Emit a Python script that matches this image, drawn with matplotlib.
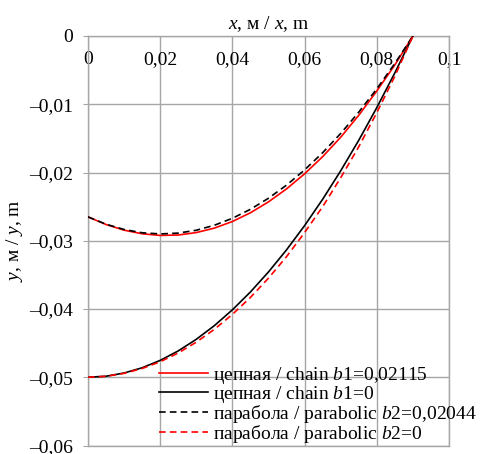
import matplotlib
matplotlib.use("Agg")
import matplotlib.pyplot as plt

plt.rcParams['font.family'] = ['Liberation Serif', 'DejaVu Serif']
plt.rcParams['mathtext.fontset'] = 'custom'
plt.rcParams['mathtext.rm'] = 'Liberation Serif'
plt.rcParams['mathtext.it'] = 'Liberation Serif:italic'

x = [0.0, 0.005, 0.01, 0.015, 0.02, 0.025, 0.03, 0.035, 0.04, 0.045,
     0.05, 0.055, 0.06, 0.065, 0.07, 0.075, 0.08, 0.085, 0.09]

chain_b1 = [-0.02650, -0.02762, -0.02845, -0.02898, -0.02922, -0.02916, -0.02880, -0.02815,
            -0.02718, -0.02590, -0.02430, -0.02240, -0.02019, -0.01768, -0.01483, -0.01162,
            -0.00806, -0.00424, 0.0]
chain_0 = [-0.05000, -0.04985, -0.04938, -0.04861, -0.04753, -0.04614, -0.04444, -0.04244,
           -0.04012, -0.03750, -0.03457, -0.03133, -0.02778, -0.02392, -0.01975, -0.01528,
           -0.01049, -0.00540, 0.0]
parab_b2 = [-0.02650, -0.02758, -0.02835, -0.02883, -0.02900, -0.02888, -0.02846, -0.02773,
            -0.02671, -0.02539, -0.02377, -0.02185, -0.01962, -0.01710, -0.01428, -0.01116,
            -0.00774, -0.00402, 0.0]
parab_0 = [-0.05000, -0.04986, -0.04943, -0.04872, -0.04773, -0.04644, -0.04486, -0.04298,
           -0.04079, -0.03830, -0.03548, -0.03233, -0.02880, -0.02501, -0.02077, -0.01623,
           -0.01123, -0.00589, 0.0]

labels = ["цепная / chain $b$1=0,02115",
          "цепная / chain $b$1=0",
          "парабола / parabolic $b$2=0,02044",
          "парабола / parabolic $b$2=0"]

xticks = [0, 0.02, 0.04, 0.06, 0.08, 0.1]
xticklabels = ["0", "0,02", "0,04", "0,06", "0,08", "0,1"]
yticks = [0, -0.01, -0.02, -0.03, -0.04, -0.05, -0.06]
yticklabels = ["0", "\u20130,01", "\u20130,02", "\u20130,03", "\u20130,04", "\u20130,05", "\u20130,06"]

W, H = 481, 454
fig = plt.figure(figsize=(W / 100, H / 100), dpi=100)
ax = fig.add_axes([88 / W, 1 - 445.5 / H, (449 - 88) / W, (445.5 - 36) / H])

grid_c = '#a6a6a6'
lw = 1.2
dash = (0, (4, 2.5))
ax.plot(x, chain_b1, color='#ff0000', lw=lw, label=labels[0], zorder=3)
ax.plot(x, chain_0, color='black', lw=lw, label=labels[1], zorder=3)
ax.plot(x, parab_b2, color='black', lw=lw, ls=dash, label=labels[2], zorder=4)
ax.plot(x, parab_0, color='#ff0000', lw=lw, ls=dash, label=labels[3], zorder=4)

ax.set_xlim(0, 0.1)
ax.set_ylim(-0.06, 0)
ax.set_xticks(xticks)
ax.set_xticklabels(xticklabels)
ax.set_yticks(yticks)
ax.set_yticklabels(yticklabels)
ax.grid(True, color=grid_c, lw=1.0)
ax.set_axisbelow(True)
for s in ax.spines.values():
    s.set_color(grid_c)
    s.set_linewidth(1.0)

fs = 14
ax.xaxis.tick_top()
ax.tick_params(axis='x', length=0, labelsize=fs, pad=-23, top=False, labeltop=True)
ax.tick_params(axis='y', length=3.6, color=grid_c, labelsize=fs, pad=7)
ax.xaxis.set_label_position('top')
ax.set_xlabel("$x$, м / $x$, m", fontsize=fs, labelpad=5)
ax.set_ylabel("$y$, м / $y$, m", fontsize=fs, labelpad=3)

ax.legend(loc='lower left', bbox_to_anchor=(155 / W, 1 - 449 / H), bbox_transform=fig.transFigure,
          frameon=False, fontsize=fs, handlelength=2.5, handletextpad=0.3,
          labelspacing=-0.1, borderpad=0.2, borderaxespad=0)

fig.savefig("out.png", dpi=100)
